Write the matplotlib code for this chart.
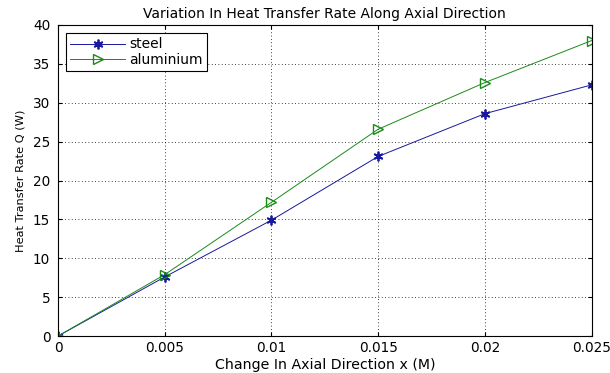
import matplotlib
matplotlib.use("Agg")
import matplotlib.pyplot as plt

x = [0, 0.005, 0.01, 0.015, 0.02, 0.025]
steel = [0, 7.6, 14.9, 23.1, 28.6, 32.3]
aluminium = [0, 7.9, 17.2, 26.6, 32.6, 38.0]
xticks = [0, 0.005, 0.01, 0.015, 0.02, 0.025]
xticklabels = ["0", "0.005", "0.01", "0.015", "0.02", "0.025"]
yticks = [0, 5, 10, 15, 20, 25, 30, 35, 40]

plt.rcParams['font.family'] = ['DejaVu Sans']
fig = plt.figure(figsize=(6.1, 3.73), dpi=100)
ax = fig.add_axes([0.095, 0.099, 0.875, 0.834])
ax.plot(x, steel, color='#1818a0', marker=(6, 2, 0), markersize=7, markeredgewidth=1.3,
        linewidth=0.7, label='steel')
ax.plot(x, aluminium, color='#1a8a1a', marker='>', markersize=7, markerfacecolor='none',
        linewidth=0.7, label='aluminium')
ax.set_xlim(0, 0.025)
ax.set_ylim(0, 40)
ax.set_xticks(xticks)
ax.set_xticklabels(xticklabels)
ax.set_yticks(yticks)
ax.tick_params(direction='in', labelsize=9.8, length=3, top=True, right=True, pad=3.5)
ax.tick_params(axis='y', pad=5.5)
ax.grid(True, linestyle=(0, (1, 3)), color='black', linewidth=0.6)
ax.set_title('Variation In Heat Transfer Rate Along Axial Direction', fontsize=10, pad=5)
ax.set_xlabel('Change In Axial Direction x (M)', fontsize=10.2, labelpad=2)
ax.set_ylabel('Heat Transfer Rate Q (W)', fontsize=8.2, labelpad=5)
leg = ax.legend(loc='upper left', fontsize=10, fancybox=False, edgecolor='black',
                framealpha=1, borderaxespad=0.6, handlelength=3.9, labelspacing=0.08,
                borderpad=0.3, handletextpad=0.35)
leg.get_frame().set_linewidth(0.8)
fig.savefig('out.png', dpi=100)
